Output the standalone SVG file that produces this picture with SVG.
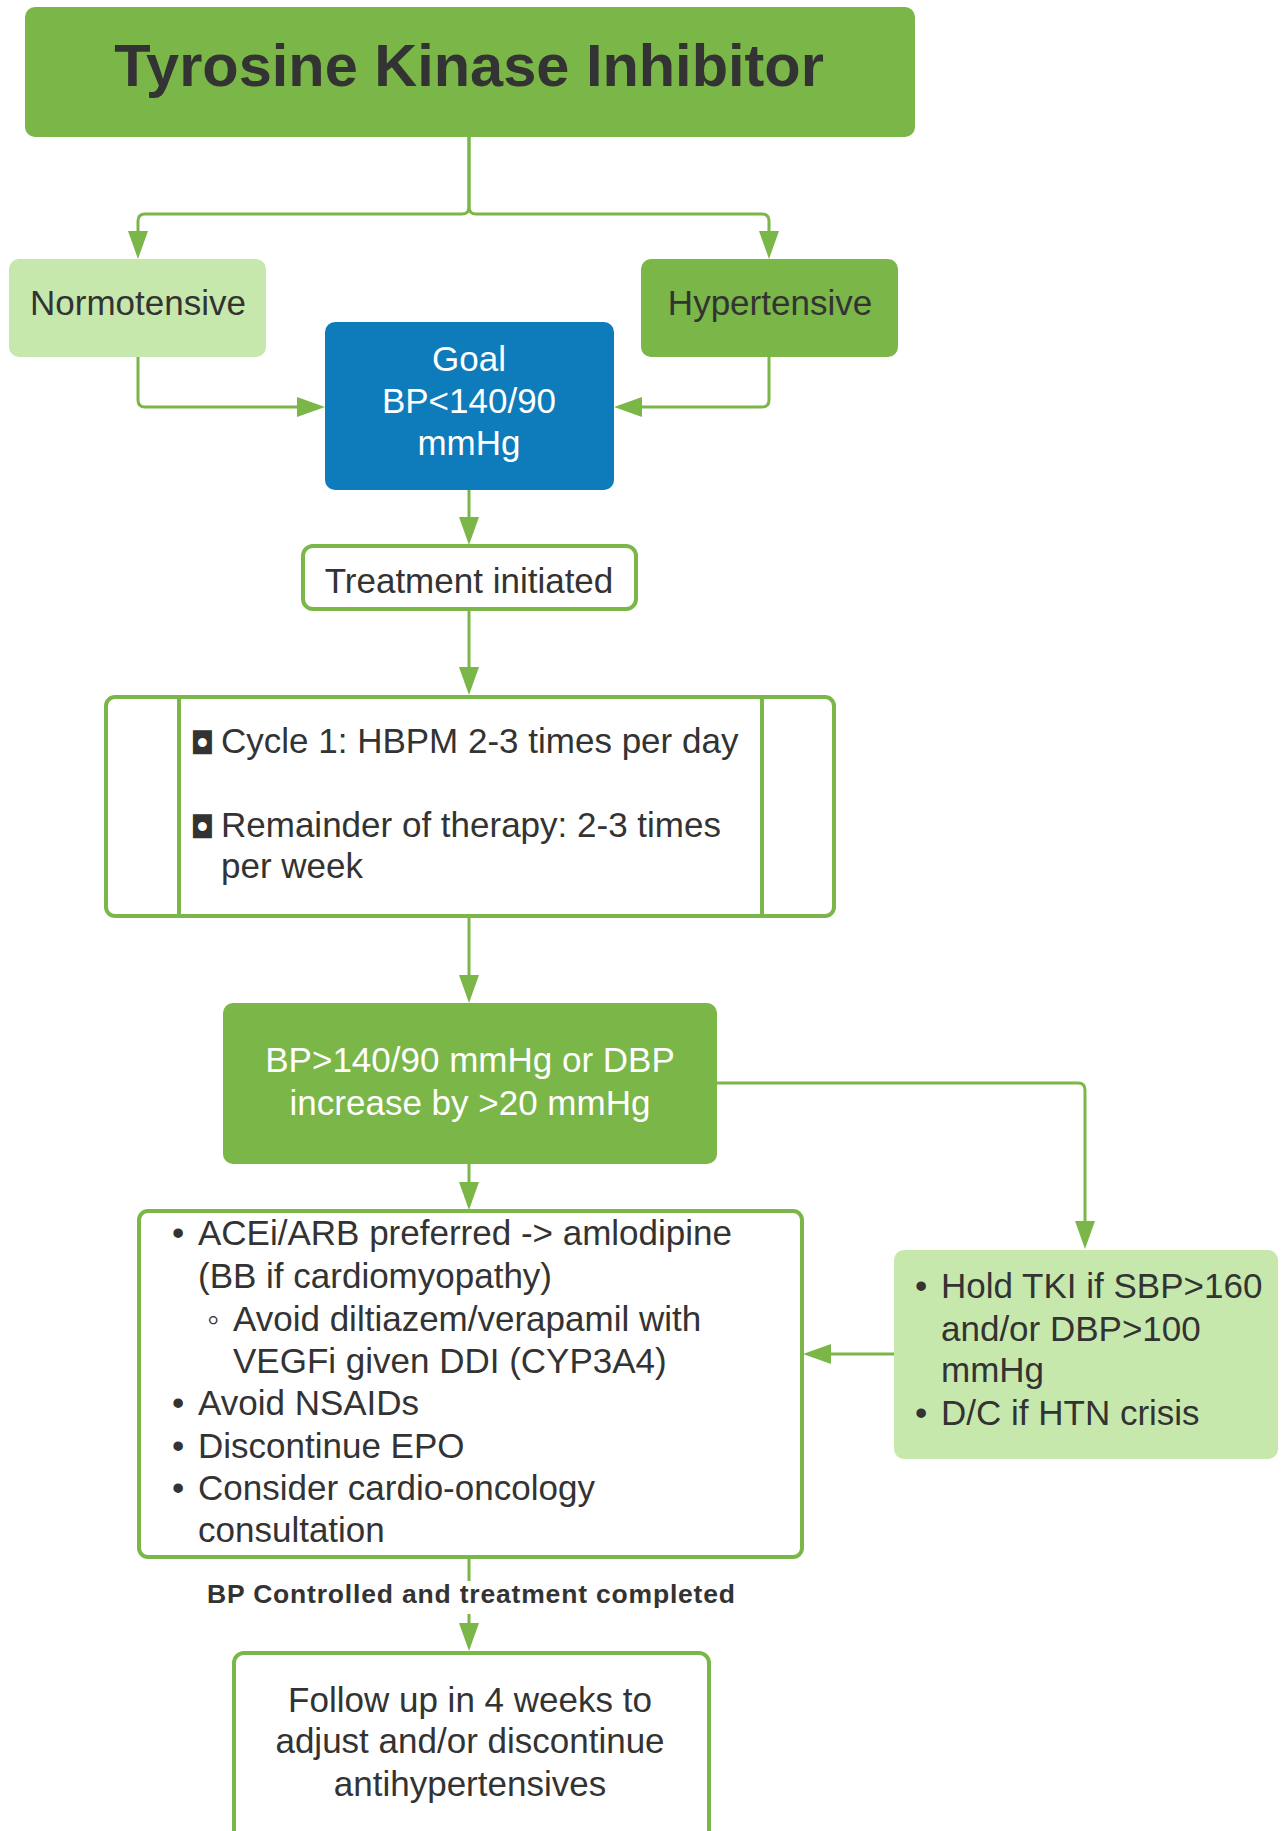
<svg xmlns="http://www.w3.org/2000/svg" width="1287" height="1831" viewBox="0 0 1287 1831">
<style>
.t{font-family:"Liberation Sans",Arial,sans-serif;font-size:35px;fill:#333333}
.w{fill:#ffffff}
.c{text-anchor:middle}
.conn{fill:none;stroke:#7ab648;stroke-width:3}
.ol{fill:#ffffff;stroke:#7ab648;stroke-width:4}
.sym{font-family:"DejaVu Sans",sans-serif}
</style>
<defs>
<marker id="ah" markerUnits="userSpaceOnUse" markerWidth="28" markerHeight="20" refX="0" refY="10" orient="auto">
<path d="M0,0 L28,10 L0,20 Z" fill="#7ab648"/>
</marker>
</defs>
<rect width="1287" height="1831" fill="#ffffff"/>
<g id="connectors">
<path class="conn" d="M469,137 V207 Q469,214 462,214 H145 Q138,214 138,221 V231" marker-end="url(#ah)"/>
<path class="conn" d="M469,137 V207 Q469,214 476,214 H762 Q769,214 769,221 V231" marker-end="url(#ah)"/>
<path class="conn" d="M138,357 V400 Q138,407 145,407 H297" marker-end="url(#ah)"/>
<path class="conn" d="M769,357 V400 Q769,407 762,407 H642" marker-end="url(#ah)"/>
<path class="conn" d="M469,490 V517" marker-end="url(#ah)"/>
<path class="conn" d="M469,610 V667" marker-end="url(#ah)"/>
<path class="conn" d="M469,917 V975" marker-end="url(#ah)"/>
<path class="conn" d="M716,1083 H1078 Q1085,1083 1085,1090 V1221" marker-end="url(#ah)"/>
<path class="conn" d="M469,1164 V1182" marker-end="url(#ah)"/>
<path class="conn" d="M894,1354 H831" marker-end="url(#ah)"/>
<path class="conn" d="M469,1557 V1581 M469,1614 V1623" marker-end="url(#ah)"/>
<text x="207" y="1603" font-family="Liberation Sans,Arial,sans-serif" font-weight="bold" font-size="26.5" fill="#333333" textLength="528" lengthAdjust="spacing">BP Controlled and treatment completed</text>
</g>
<g id="title">
<rect x="25" y="7" width="890" height="130" rx="10" fill="#7ab648"/>
<text class="t c" x="469" y="86" font-weight="bold" style="font-size:59.5px">Tyrosine Kinase Inhibitor</text>
</g>
<g id="normotensive">
<rect x="9" y="259" width="257" height="98" rx="10" fill="#c7e8ac"/>
<text class="t c" x="138" y="315">Normotensive</text>
</g>
<g id="hypertensive">
<rect x="641" y="259" width="257" height="98" rx="10" fill="#7ab648"/>
<text class="t c" x="770" y="315">Hypertensive</text>
</g>
<g id="goal">
<rect x="325" y="322" width="289" height="168" rx="10" fill="#0e7bbb"/>
<text class="t c w" x="469" y="371">Goal</text>
<text class="t c w" x="469" y="413">BP&lt;140/90</text>
<text class="t c w" x="469" y="455">mmHg</text>
</g>
<g id="treatment">
<rect class="ol" x="303" y="546" width="333" height="63" rx="10"/>
<text class="t c" x="469" y="593">Treatment initiated</text>
</g>
<g id="monitoring">
<rect class="ol" x="106" y="697" width="728" height="219" rx="9"/>
<line x1="179" y1="697" x2="179" y2="916" stroke="#7ab648" stroke-width="4"/>
<line x1="762" y1="697" x2="762" y2="916" stroke="#7ab648" stroke-width="4"/>
<text class="t sym" x="190" y="754" style="font-size:31px">◘</text>
<text class="t" x="221" y="753">Cycle 1: HBPM 2-3 times per day</text>
<text class="t sym" x="190" y="838" style="font-size:31px">◘</text>
<text class="t" x="221" y="837">Remainder of therapy: 2-3 times</text>
<text class="t" x="221" y="878">per week</text>
</g>
<g id="bp-elevated">
<rect x="223" y="1003" width="494" height="161" rx="10" fill="#7ab648"/>
<text class="t c w" x="470" y="1072">BP&gt;140/90 mmHg or DBP</text>
<text class="t c w" x="470" y="1115">increase by &gt;20 mmHg</text>
</g>
<g id="management">
<rect class="ol" x="139" y="1211" width="663" height="346" rx="9"/>
<text class="t" x="172" y="1245">•</text>
<text class="t" x="198" y="1245">ACEi/ARB preferred -&gt; amlodipine</text>
<text class="t" x="198" y="1288">(BB if cardiomyopathy)</text>
<text class="t" x="207" y="1331">◦</text>
<text class="t" x="233" y="1331">Avoid diltiazem/verapamil with</text>
<text class="t" x="233" y="1373">VEGFi given DDI (CYP3A4)</text>
<text class="t" x="172" y="1415">•</text>
<text class="t" x="198" y="1415">Avoid NSAIDs</text>
<text class="t" x="172" y="1458">•</text>
<text class="t" x="198" y="1458">Discontinue EPO</text>
<text class="t" x="172" y="1500">•</text>
<text class="t" x="198" y="1500">Consider cardio-oncology</text>
<text class="t" x="198" y="1542">consultation</text>
</g>
<g id="hold-tki">
<rect x="894" y="1250" width="384" height="209" rx="10" fill="#c7e8ac"/>
<text class="t" x="915" y="1298">•</text>
<text class="t" x="941" y="1298">Hold TKI if SBP&gt;160</text>
<text class="t" x="941" y="1341">and/or DBP&gt;100</text>
<text class="t" x="941" y="1382">mmHg</text>
<text class="t" x="915" y="1425">•</text>
<text class="t" x="941" y="1425">D/C if HTN crisis</text>
</g>
<g id="follow-up">
<rect class="ol" x="234" y="1653" width="475" height="200" rx="10"/>
<text class="t c" x="470" y="1712">Follow up in 4 weeks to</text>
<text class="t c" x="470" y="1753">adjust and/or discontinue</text>
<text class="t c" x="470" y="1796">antihypertensives</text>
</g>
</svg>
